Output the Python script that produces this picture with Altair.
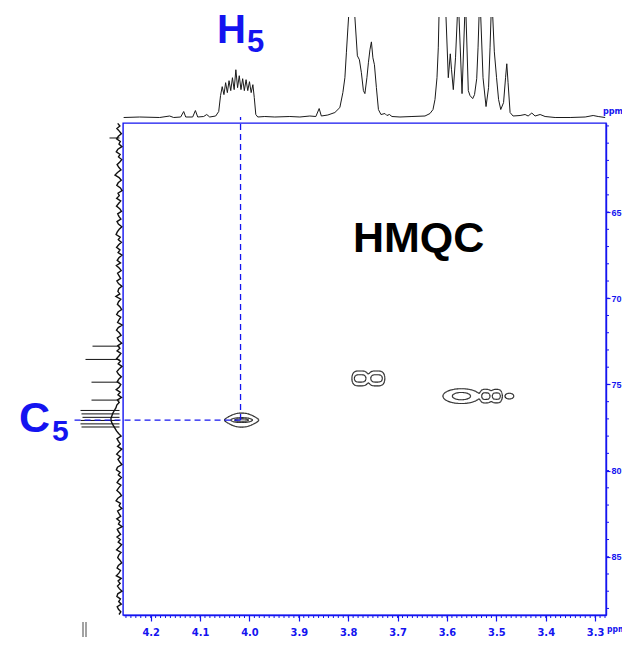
import numpy as np
import pandas as pd
import altair as alt

BLUE = "#1414f0"
NARROW = "Liberation Sans Narrow, DejaVu Sans Condensed, sans-serif"
BOLDF = "Liberation Sans, Arial, sans-serif"

# ---------------- data ----------------
# 1H projection (top trace): ppm, intensity (clipped at 101), segment id
top_ppm = [4.2547, 4.2223, 4.1818, 4.1615, 4.1534, 4.1392, 4.1331, 4.1290, 4.1149, 4.1094,
           4.1047, 4.0926, 4.0865, 4.0804, 4.0683, 4.0622, 4.0585,
           4.0551, 4.0516, 4.0482, 4.0447, 4.0413, 4.0378, 4.0344, 4.0309, 4.0275, 4.0240,
           4.0206, 4.0171, 4.0137, 4.0103, 4.0068, 4.0034, 3.9999, 3.9965, 3.9930, 3.9902,
           3.9871, 3.9831, 3.9689, 3.9486, 3.9182, 3.8979, 3.8777, 3.8655, 3.8588, 3.8544,
           3.8412, 3.8270, 3.8169, 3.8108, 3.8067, 3.8037, 3.8006, 3.7992,
           3.7865, 3.7814, 3.7773, 3.7733, 3.7692, 3.7662, 3.7621, 3.7591, 3.7560, 3.7530,
           3.7500, 3.7469, 3.7429, 3.7388, 3.7337, 3.7256, 3.7216, 3.7165, 3.7114, 3.6952,
           3.6709, 3.6445, 3.6344, 3.6283, 3.6243, 3.6202, 3.6176, 3.6162,
           3.6020, 3.5973, 3.5933, 3.5908, 3.5872, 3.5827, 3.5791,
           3.5756, 3.5695, 3.5641,
           3.5614, 3.5568, 3.5533, 3.5479, 3.5442, 3.5398, 3.5371, 3.5351,
           3.5316, 3.5270, 3.5209, 3.5158, 3.5128, 3.5108,
           3.5073, 3.5041, 3.4996, 3.4955, 3.4911, 3.4854, 3.4814, 3.4789, 3.4763, 3.4722,
           3.4662, 3.4520, 3.4418, 3.4357, 3.4282, 3.4216, 3.4114, 3.4013, 3.3810, 3.3506,
           3.3202, 3.3040, 3.2938, 3.2797]
top_int = [0, 0.5, 0, 1.5, 0, 0.5, 6, 0.5, 0.5, 7,
           0.5, 1, 3, 0.5, 1.5, 6, 22,
           31, 23, 35, 25, 37, 27, 40, 28, 48, 30,
           42, 28, 39, 27, 38, 27, 36, 25, 33, 20,
           3, 0.5, 1, 0.5, 1, 0.5, 1.5, 1, 9, 1.5,
           2.5, 5, 10, 25, 40, 65, 90, 101,
           101, 62, 58, 45, 27, 24, 40, 55, 68, 76,
           60, 53, 30, 8, 3, 4, 2, 3, 1, 0.5,
           1, 1.5, 4, 8, 18, 40, 70, 101,
           101, 40, 64, 48, 28, 60, 101,
           101, 24, 101,
           101, 27, 22, 19, 23, 39, 70, 101,
           101, 40, 11, 30, 70, 101,
           101, 66, 40, 18, 8, 15, 40, 54, 35, 5,
           1.5, 2, 3, 1.5, 4.5, 1.5, 3, 1, 0, 0,
           0.5, 2, 1, 0]
top_seg = [0] * 55 + [1] * 28 + [2] * 7 + [3] * 3 + [4] * 8 + [5] * 6 + [6] * 24

# 13C projection (left trace): noise on a 0.15 ppm grid, and the spikes
c13_start, c13_step = 59.85, 0.15
c13_noise = [1.8, -0.4, 2.6, 0.2, -1.9, 1.1, 2.9, -0.8, 0.5, -2.4,
             1.6, 3.2, -0.6, 1.0, -2.2, -0.3, 2.4, 0.7, -1.5, 2.0,
             4.5, 0.4, -1.8, 1.3, 2.7, -0.9, -2.6, 1.5, 0.2, 2.8,
             -1.2, 0.9, 3.0, -0.2, -2.0, 1.8, 0.6, -1.4, 2.5, 1.1,
             -2.3, 0.3, 2.2, 3.4, -0.7, 1.2, -1.9, 0.8, 2.9, -0.5,
             1.4, -2.5, 0.6, 2.3, -1.0, 3.1, 0.1, -1.7, 1.9, 0.4,
             -1.1, 2.6, 1.0, -2.4, 0.7, 1.6, -0.3, 3.6, -1.3, 0.9,
             2.1, -0.6, -2.1, 1.4, 2.8, -1.2, 0.5, 1.9, -2.6, 1.2,
             3.0, 0.2, -1.6, 2.2, 0.8, -2.2, 1.7, -0.4, 2.4, -1.4,
             0.6, 2.9, -0.9, 1.3, -2.5, 0.4, 2.6, 1.1, -1.8, 0.8,
             2.3, -1.3, 0.2, 3.3, -0.7, 1.5, -2.0, 2.1, 0.3, 2.7,
             3.5, 5.0, 6.5, 7.5, 8.5, 8.5, 7.5, 6.0, 4.5, 3.0,
             0.9, -1.6, 2.5, 1.0, -0.8, 1.9, -2.3, 0.6, 2.8, -1.0,
             1.5, -0.3, -2.4, 2.0, 3.1, -0.6, 1.2, -1.9, 0.7, 2.4,
             -1.4, 0.8, 2.6, -0.2, -2.0, 1.6, 3.4, -0.9, 0.4, -2.3,
             1.9, 0.5, -1.2, 2.7, -0.5, 1.0, -2.6, 2.2, 0.9, -1.1,
             2.5, -0.8, 1.3, -2.1, 0.3, 2.9, -1.5, 0.7, 1.8, -0.4,
             -2.2, 1.1, 2.4, -1.0, 0.6, 3.2, -1.7, 1.4, -0.6, 2.0,
             0.2, -2.5, 1.7, 2.6, -0.9, 0.8, -1.8, 2.3, 1.0, -1.3,
             0.5]
c13_spike_ppm = [60.70, 72.78, 73.55, 74.87, 75.91, 76.51, 76.71, 76.91, 77.09, 77.29, 77.47]
c13_spike_int = [10, 27, 34, 28, 28, 39, 38, 37, 39, 39, 38]

# HMQC cross peaks: centre (1H, 13C), amplitude, widths, x-profile exponent, y-profile kind
peak_h = [4.0158, 3.7758, 3.7426, 3.5707, 3.5212, 3.5000, 3.4737]
peak_c = [77.07, 74.652, 74.652, 75.679, 75.679, 75.679, 75.679]
peak_amp = [1.1, 0.84, 0.84, 0.84, 0.80, 0.80, 0.20]
peak_wh = [0.01853, 0.01162, 0.01162, 0.01818, 0.00808, 0.00808, 0.00768]
peak_ph = [2.5, 4, 4, 2, 4, 4, 2]
peak_wc = [0.1282, 0.2088, 0.2088, 0.2088, 0.1914, 0.1914, 0.1392]
peak_shape = ["l", "g", "g", "g", "g", "g", "g"]
contour_levels = [0.1, 0.5, 0.85]

h5_ppm, c5_ppm = 4.018, 77.07

x_major = [4.2, 4.1, 4.0, 3.9, 3.8, 3.7, 3.6, 3.5, 3.4, 3.3]
y_major = [65, 70, 75, 80, 85]
x_minor = [round(3.28 + 0.01 * i, 2) for i in range(98)]
y_minor = list(range(60, 89))

# ---------------- build tables ----------------
top_df = pd.DataFrame({"ppm": top_ppm, "v": top_int, "seg": top_seg, "i": range(len(top_ppm))})
c13_df = pd.DataFrame({"ppm": [c13_start + c13_step * k for k in range(len(c13_noise))],
                       "v": c13_noise, "i": range(len(c13_noise))})
spk_df = pd.DataFrame({"ppm": c13_spike_ppm, "v": c13_spike_int, "base": 0.0})

gx = np.arange(3.44, 4.07, 0.0015)
gy = np.arange(73.3, 78.2, 0.04)
GX, GY = np.meshgrid(gx, gy)
Z = np.zeros_like(GX)
for ph, pc, a, wh, pp, wc, sh in zip(peak_h, peak_c, peak_amp, peak_wh, peak_ph, peak_wc, peak_shape):
    fx = np.exp(-0.5 * np.abs((GX - ph) / wh) ** pp)
    if sh == "l":
        fy = 1.0 / (1.0 + ((GY - pc) / wc) ** 2)
    else:
        fy = np.exp(-0.5 * ((GY - pc) / wc) ** 2)
    Z += a * fx * fy

rows = []
for lev in contour_levels:
    ab = Z >= lev
    mixed = ~((ab[:-1, :-1] == ab[1:, :-1]) & (ab[:-1, :-1] == ab[:-1, 1:]) & (ab[:-1, :-1] == ab[1:, 1:]))
    for j, i in np.argwhere(mixed):
        corners = [(i, j), (i + 1, j), (i + 1, j + 1), (i, j + 1)]
        pts = []
        for k in range(4):
            (i1, j1), (i2, j2) = corners[k], corners[(k + 1) % 4]
            z1, z2 = Z[j1, i1], Z[j2, i2]
            if (z1 >= lev) != (z2 >= lev):
                t = (lev - z1) / (z2 - z1)
                pts.append((gx[i1] + t * (gx[i2] - gx[i1]), gy[j1] + t * (gy[j2] - gy[j1])))
        if len(pts) >= 2:
            rows.append({"x1": pts[0][0], "y1": pts[0][1], "x2": pts[1][0], "y2": pts[1][1]})
        if len(pts) == 4:
            rows.append({"x1": pts[2][0], "y1": pts[2][1], "x2": pts[3][0], "y2": pts[3][1]})
seg_df = pd.DataFrame(rows)

# ---------------- scales ----------------
xs = alt.Scale(domain=[3.278, 4.256], reverse=True, nice=False, zero=False)
ys = alt.Scale(domain=[59.83, 88.38], reverse=True, nice=False, zero=False)
ys_top = alt.Scale(domain=[0, 101], range=[-5.5, -106], nice=False, zero=False)
xs_left = alt.Scale(domain=[0, 40], range=[-3.5, -43.5], nice=False, zero=False)

W, H = 483, 492

contours = alt.Chart(seg_df).mark_rule(color="black", strokeWidth=1.1).encode(
    x=alt.X("x1:Q", scale=xs, axis=alt.Axis(
        values=x_major, format=".1f", orient="bottom", title=None, grid=False,
        domainColor=BLUE, domainWidth=1.4, tickColor=BLUE, tickSize=6, tickWidth=1.2,
        labelColor=BLUE, labelFont=NARROW, labelFontWeight="bold", labelFontSize=11,
        labelPadding=5)),
    x2="x2:Q",
    y=alt.Y("y1:Q", scale=ys, axis=alt.Axis(
        values=y_major, format="d", orient="right", title=None, grid=False,
        domainColor=BLUE, domainWidth=1.4, tickColor=BLUE, tickSize=4, tickWidth=1.2,
        labelColor=BLUE, labelFont=BOLDF, labelFontWeight="bold", labelFontSize=9,
        labelPadding=1)),
    y2="y2:Q",
)

top_trace = alt.Chart(top_df).mark_line(color="#1a1a1a", strokeWidth=1.0).encode(
    x=alt.X("ppm:Q", scale=xs, axis=None),
    y=alt.Y("v:Q", scale=ys_top, axis=None),
    detail="seg:N",
    order="i:Q",
)

left_trace = alt.Chart(c13_df).mark_line(color="#111111", strokeWidth=1.4).encode(
    x=alt.X("v:Q", scale=xs_left, axis=None),
    y=alt.Y("ppm:Q", scale=ys, axis=None),
    order="i:Q",
)

left_spikes = alt.Chart(spk_df).mark_rule(color="#111111", strokeWidth=1.0).encode(
    x=alt.X("base:Q", scale=xs_left, axis=None),
    x2="v:Q",
    y=alt.Y("ppm:Q", scale=ys, axis=None),
)

mk = pd.DataFrame({"h": [h5_ppm], "c": [c5_ppm]})
vdash = alt.Chart(mk).mark_rule(color=BLUE, strokeWidth=1.3, strokeDash=[6, 4]).encode(
    x=alt.X("h:Q", scale=xs, axis=None),
    y=alt.Y("c:Q", scale=ys, axis=None),
    y2=alt.value(-6),
)
hdash = alt.Chart(mk).mark_rule(color=BLUE, strokeWidth=1.3, strokeDash=[6, 4]).encode(
    x=alt.X("h:Q", scale=xs, axis=None),
    x2=alt.value(-51),
    y=alt.Y("c:Q", scale=ys, axis=None),
)

xminor = alt.Chart(pd.DataFrame({"t": x_minor})).mark_rule(color=BLUE, strokeWidth=1).encode(
    x=alt.X("t:Q", scale=xs, axis=None), y=alt.value(H), y2=alt.value(H + 3))
yminor = alt.Chart(pd.DataFrame({"t": y_minor})).mark_rule(color=BLUE, strokeWidth=1).encode(
    y=alt.Y("t:Q", scale=ys, axis=None), x=alt.value(W), x2=alt.value(W + 3))


def label(s, x, y, size, color, font=BOLDF, weight="bold"):
    return alt.Chart(pd.DataFrame({"t": [s]})).mark_text(
        align="left", baseline="alphabetic", font=font, fontWeight=weight,
        fontSize=size, color=color).encode(x=alt.value(x), y=alt.value(y), text="t:N")


texts = [
    label("HMQC", 230, 129, 43, "black"),
    label("H", 94, -80, 40, BLUE),
    label("5", 124, -71, 31, BLUE),
    label("C", -104, 309, 43, BLUE),
    label("5", -71, 318, 30, BLUE),
    label("ppm", 484, 509, 8.5, BLUE, font=NARROW),
    label("ppm", 480, -9, 9, BLUE, font=NARROW),
]

bars = alt.Chart(pd.DataFrame({"k": [0, 1]})).mark_rule(color="#666666", strokeWidth=1.2).encode(
    x=alt.X("k:Q", scale=alt.Scale(domain=[0, 1], range=[-40, -37]), axis=None),
    y=alt.value(499), y2=alt.value(522))

chart = alt.layer(
    contours, top_trace, left_trace, left_spikes, vdash, hdash, xminor, yminor, bars, *texts
).resolve_scale(x="independent", y="independent").properties(
    width=W, height=H,
    autosize=alt.AutoSizeParams(type="none"),
    padding={"left": 115, "top": 115, "right": 16, "bottom": 22},
).configure_view(stroke=BLUE, strokeWidth=1.4)

chart.save("out.html", embed_options={"renderer": "svg", "actions": False})
